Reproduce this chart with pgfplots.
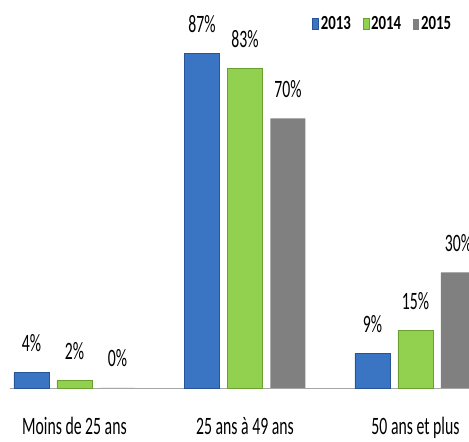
\documentclass[border=0pt]{standalone}
\usepackage{fontspec}
\setmainfont{Carlito}[FakeStretch=0.63]
\newfontfamily\legfont{Carlito}[FakeStretch=0.74]
\usepackage{pgfplots}
\pgfplotsset{compat=1.18}
\definecolor{cblue}{RGB}{58,117,196}
\definecolor{cblueD}{RGB}{38,84,150}
\definecolor{cgreen}{RGB}{146,208,80}
\definecolor{cgreenD}{RGB}{106,160,50}
\definecolor{cgray}{RGB}{128,128,128}
\definecolor{cgrayD}{RGB}{92,92,92}
\begin{document}
\begin{tikzpicture}
\useasboundingbox (0,0) rectangle (469pt,442pt);
\begin{axis}[
  at={(10pt,54pt)}, anchor=south west,
  scale only axis, width=510pt, height=385pt,
  xmin=-0.378, xmax=2.613, ymin=0, ymax=100,
  axis y line=none, axis x line*=bottom,
  x axis line style={draw=black!35, line width=0.8pt, -},
  ybar=8pt, bar width=35pt,
  xtick={0,1,2}, xticklabels={Moins de 25 ans, 25 ans à 49 ans, 50 ans et plus},
  major tick length=0pt,
  xticklabel style={font=\fontsize{25}{28}\selectfont, anchor=base, yshift=-46pt},
  /pgf/number format/assume math mode=true,
  nodes near coords={\pgfmathprintnumber{\pgfplotspointmeta}\%},
  every node near coord/.append style={font=\fontsize{25}{28}\selectfont, anchor=base, yshift=21pt, black},
  legend columns=3,
  legend style={at={(rel axis cs:0.731,0.945)}, anchor=center, draw=none, fill=none,
    font=\legfont\bfseries\fontsize{20}{24}\selectfont, inner sep=0pt,
    /tikz/every even column/.append style={column sep=10pt}},
  legend image code/.code={\fill[#1] (0pt,-5.5pt) rectangle (6pt,5.5pt);},
  clip=false,
]
\addplot[fill=cblue, draw=cblueD] coordinates {(0,4) (1,87) (2,9)};
\addplot[fill=cgreen, draw=cgreenD] coordinates {(0,2) (1,83) (2,15)};
\addplot[fill=cgray, draw=none] coordinates {(0,0) (1,70) (2,30)};
\legend{2013,2014,2015}
\end{axis}
\end{tikzpicture}
\end{document}
